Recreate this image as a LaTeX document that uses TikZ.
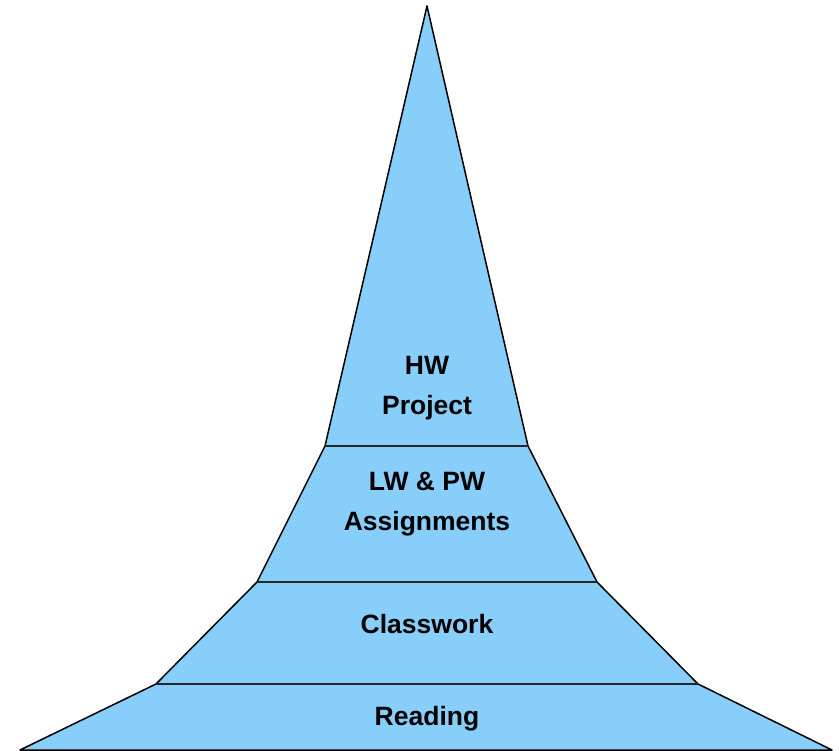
\documentclass[tikz,border=0pt]{standalone}
\usepackage{fontspec}
\setmainfont{Liberation Sans}
\definecolor{bandblue}{HTML}{87CEFA}
\begin{document}
\begin{tikzpicture}[x=1pt,y=-1pt,
  outline/.style={draw=black,line width=1.5pt,line join=round,fill=bandblue},
  divider/.style={draw=black!85,line width=1.5pt},
  label/.style={font=\fontsize{26.5}{40}\selectfont\bfseries,align=center,text=black}]
\useasboundingbox (0,0) rectangle (839,751);
\coordinate (apex) at (427,6);
\coordinate (l1) at (325,446); \coordinate (r1) at (528,446);
\coordinate (l2) at (257,582); \coordinate (r2) at (597,582);
\coordinate (l3) at (156,684); \coordinate (r3) at (698,684);
\coordinate (l4) at (20,750); \coordinate (r4) at (832,750);
\path[outline] (apex) -- (r1) -- (r2) -- (r3) -- (r4) -- (l4) -- (l3) -- (l2) -- (l1) -- cycle;
\draw[divider] (l1) -- (r1);
\draw[divider] (l2) -- (r2);
\draw[divider] (l3) -- (r3);
\node[label] (hw) at (427,388.5) {HW\\Project};
\node[label] (lw) at (427,504.5) {LW \& PW\\Assignments};
\node[label] (cw) at (427,624.5) {Classwork};
\node[label] (rd) at (427,719) {Reading};
\end{tikzpicture}
\end{document}
